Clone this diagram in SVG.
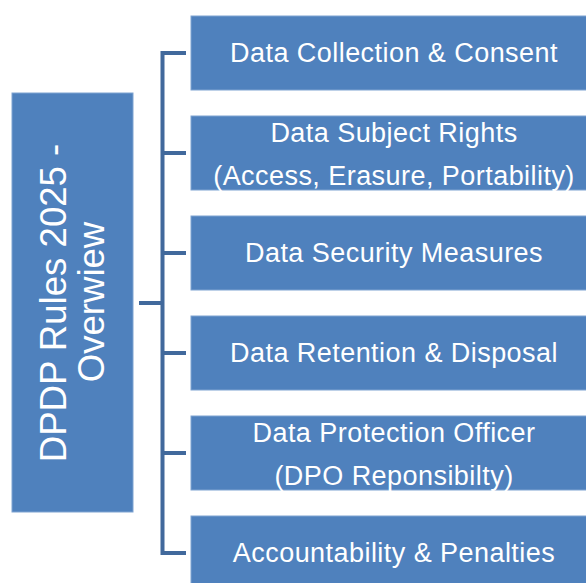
<svg xmlns="http://www.w3.org/2000/svg" width="586" height="583" viewBox="0 0 586 583">
<style>
.box{fill:#4F81BD;stroke:#7FA3D1;stroke-width:1}
.t{fill:#FFFFFF;font-family:"Liberation Sans",Arial,sans-serif;font-size:27px;letter-spacing:0.45px;text-anchor:middle}
.tl{fill:#FFFFFF;font-family:"Liberation Sans",Arial,sans-serif;font-size:36.6px;text-anchor:middle}
.c{fill:none;stroke:#41699C;stroke-width:4}
</style>
<rect width="586" height="583" fill="#FFFFFF"/>
<g id="connectors">
<path class="c" d="M186,53 H162.5 V553 H186"/>
<path class="c" d="M162.5,153 H186 M162.5,253 H186 M162.5,353 H186 M162.5,453 H186"/>
<path class="c" d="M139,303 H162.5"/>
</g>
<g id="root">
<rect class="box" x="12" y="93" width="121" height="419"/>
<text class="tl" transform="translate(66,303) rotate(-90)">DPDP Rules 2025 -</text>
<text class="tl" transform="translate(104,302) rotate(-90)">Overwiew</text>
</g>
<g id="n1">
<rect class="box" x="191" y="16" width="405" height="74"/>
<text class="t" x="394" y="62">Data Collection &amp; Consent</text>
</g>
<g id="n2">
<rect class="box" x="191" y="116" width="405" height="74"/>
<text class="t" x="394" y="142">Data Subject Rights</text>
<text class="t" x="394" y="185">(Access, Erasure, Portability)</text>
</g>
<g id="n3">
<rect class="box" x="191" y="216" width="405" height="74"/>
<text class="t" x="394" y="262">Data Security Measures</text>
</g>
<g id="n4">
<rect class="box" x="191" y="316" width="405" height="74"/>
<text class="t" x="394" y="362">Data Retention &amp; Disposal</text>
</g>
<g id="n5">
<rect class="box" x="191" y="416" width="405" height="74"/>
<text class="t" x="394" y="442">Data Protection Officer</text>
<text class="t" x="394" y="485">(DPO Reponsibilty)</text>
</g>
<g id="n6">
<rect class="box" x="191" y="516" width="405" height="74"/>
<text class="t" x="394" y="562">Accountability &amp; Penalties</text>
</g>
</svg>
